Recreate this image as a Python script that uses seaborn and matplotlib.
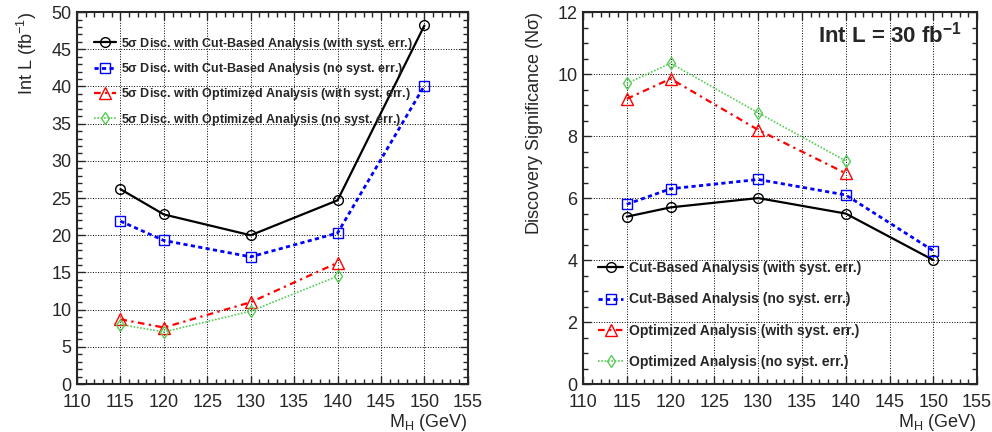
import matplotlib
matplotlib.use("Agg")
import matplotlib.pyplot as plt
from matplotlib.ticker import MultipleLocator
import seaborn as sns

# data
mass_full = [115, 120, 130, 140, 150]
mass_opt = [115, 120, 130, 140]

lumi_cut_syst = [26.2, 22.8, 20.0, 24.7, 48.2]
lumi_cut_nosyst = [21.9, 19.3, 17.1, 20.3, 40.1]
lumi_opt_syst = [8.7, 7.6, 11.0, 16.3]
lumi_opt_nosyst = [8.0, 7.0, 9.8, 14.5]

sig_cut_syst = [5.4, 5.7, 6.0, 5.5, 4.0]
sig_cut_nosyst = [5.8, 6.3, 6.6, 6.1, 4.3]
sig_opt_syst = [9.2, 9.85, 8.2, 6.8]
sig_opt_nosyst = [9.7, 10.35, 8.75, 7.2]

labels_left = [r"5$\mathregular{\sigma}$ Disc. with Cut-Based Analysis (with syst. err.)",
               r"5$\mathregular{\sigma}$ Disc. with Cut-Based Analysis (no syst. err.)",
               r"5$\mathregular{\sigma}$ Disc. with Optimized Analysis (with syst. err.)",
               r"5$\mathregular{\sigma}$ Disc. with Optimized Analysis (no syst. err.)"]
labels_right = ["Cut-Based Analysis (with syst. err.)",
                "Cut-Based Analysis (no syst. err.)",
                "Optimized Analysis (with syst. err.)",
                "Optimized Analysis (no syst. err.)"]

sns.set_style("ticks")
plt.rcParams['font.family'] = ['Liberation Sans', 'DejaVu Sans']
plt.rcParams['mathtext.fontset'] = 'custom'
plt.rcParams['mathtext.rm'] = 'Liberation Sans'

styles = [
    dict(color='black', marker='o', ls='-', lw=1.6, ms=7),
    dict(color='blue', marker='s', ls=(0, (1.5, 1.2)), lw=2.0, ms=7),
    dict(color='red', marker='^', ls=(0, (3, 2, 1, 2)), lw=1.6, ms=8),
    dict(color='#55cc55', marker='d', ls=(0, (1, 1)), lw=1.2, ms=6),
]

fig = plt.figure(figsize=(9.92, 4.32), dpi=100)
ax1 = fig.add_axes([0.0776, 0.111, 0.394, 0.861])
ax2 = fig.add_axes([0.5877, 0.111, 0.3973, 0.861])


def draw(ax, xs_list, ys_list, labels):
    for xs, ys, lab, st in zip(xs_list, ys_list, labels, styles):
        sns.lineplot(x=xs, y=ys, ax=ax, color=st['color'], marker=st['marker'],
                     linestyle=st['ls'], linewidth=st['lw'], markersize=st['ms'],
                     markerfacecolor='none', markeredgecolor=st['color'],
                     markeredgewidth=1.0, label=lab)
    ax.set_xlim(110, 155)
    ax.xaxis.set_major_locator(MultipleLocator(5))
    ax.xaxis.set_minor_locator(MultipleLocator(1))
    ax.grid(True, which='major', linestyle=':', color='black', linewidth=0.7)
    ax.tick_params(which='both', direction='in', top=True, right=True, labelsize=13)
    ax.tick_params(which='major', length=6, width=1)
    ax.tick_params(which='minor', length=3.5, width=1)
    ax.tick_params(axis='x', pad=7)
    ax.tick_params(axis='y', pad=4)
    for sp in ax.spines.values():
        sp.set_linewidth(1.5)
    ax.set_xlabel(r"M$_{\mathregular{H}}$ (GeV)", fontsize=13, loc='right', labelpad=1)


draw(ax1, [mass_full, mass_full, mass_opt, mass_opt],
     [lumi_cut_syst, lumi_cut_nosyst, lumi_opt_syst, lumi_opt_nosyst], labels_left)
ax1.set_ylim(0, 50)
ax1.yaxis.set_major_locator(MultipleLocator(5))
ax1.yaxis.set_minor_locator(MultipleLocator(1))
ax1.set_ylabel(r"Int L (fb$^{\mathregular{-1}}$)", fontsize=13, loc='top', labelpad=9)
ax1.legend(loc='upper left', bbox_to_anchor=(0.03, 0.95), frameon=False,
           prop={'weight': 'bold', 'size': 9}, handlelength=1.8, labelspacing=0.75,
           handletextpad=0.4, borderaxespad=0)

draw(ax2, [mass_full, mass_full, mass_opt, mass_opt],
     [sig_cut_syst, sig_cut_nosyst, sig_opt_syst, sig_opt_nosyst], labels_right)
ax2.set_ylim(0, 12)
ax2.yaxis.set_major_locator(MultipleLocator(2))
ax2.yaxis.set_minor_locator(MultipleLocator(0.5))
ax2.set_ylabel(r"Discovery Significance (N$\mathregular{\sigma}$)", fontsize=13, loc='top', labelpad=9)
ax2.legend(loc='lower left', bbox_to_anchor=(0.025, 0.025), frameon=False,
           prop={'weight': 'bold', 'size': 10}, handlelength=1.8, labelspacing=1.25,
           handletextpad=0.4, borderaxespad=0)
ax2.text(0.96, 0.94, r"Int L = 30 fb$^{\mathregular{-1}}$", transform=ax2.transAxes,
         ha='right', va='center', fontsize=16, fontweight='bold')

fig.savefig("out.png", dpi=100)
